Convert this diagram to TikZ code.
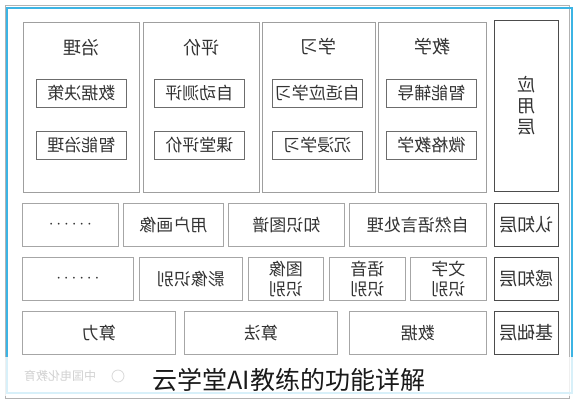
\documentclass[tikz,border=0pt]{standalone}
\usepackage{fontspec}
\setmainfont{Noto Sans CJK SC}
\usetikzlibrary{positioning, shadows}
\definecolor{framecyan}{RGB}{60,180,228}
\newcommand{\flip}[1]{\reflectbox{#1}}
\newcommand{\moredots}{\ensuremath{\cdots\cdots}}

\begin{document}
\begin{tikzpicture}[x=1pt, y=-1pt,
	softshadow/.style={drop shadow={shadow xshift=0.8pt, shadow yshift=-0.8pt,
		opacity=0.35, fill=gray}},
	appcol/.style={rectangle, anchor=north west, draw=gray!75, thick, fill=white,
		minimum height=170pt, inner sep=0pt},
	apphead/.style={font=\fontsize{18}{18}\selectfont, text=black!80, inner sep=0pt},
	appitem/.style={rectangle, anchor=north west, draw=gray!85!black, fill=white, thick,
		minimum width=90pt, minimum height=28pt, inner sep=0pt,
		font=\fontsize{17}{17}\selectfont, text=black!80, softshadow},
	cellbox/.style={rectangle, anchor=north west, draw=gray!70, thick, fill=white,
		minimum height=43pt, inner sep=0pt, align=center,
		font=\fontsize{17}{20}\selectfont, text=black!80, softshadow},
	layerbox/.style={rectangle, anchor=north west, draw=black!70, line width=1.3pt,
		fill=white, minimum width=64pt, inner sep=0pt, align=center,
		font=\fontsize{18}{21}\selectfont, text=black!80, softshadow}
	]
	\useasboundingbox (0,0) rectangle (580,400);
	
	% outer frame
	\draw[gray!60] (5,5) rectangle (569,398);
	\draw[framecyan, line width=1.2pt] (7,8) rectangle (572,393);
	
	% Application layer
	\node[appcol, minimum width=116pt] (gov) at (23,22) {};
	\node[appcol, minimum width=116pt] (eval) at (143,22) {};
	\node[appcol, minimum width=113pt] (learn) at (262,22) {};
	\node[appcol, minimum width=108pt] (teach) at (378,22) {};
	\node[layerbox, minimum height=171pt] (applabel) at (494,20) {\flip{应}\\\flip{用}\\\flip{层}};
	
	\node[apphead] (govhead) at (81,48) {\flip{治理}};
	\node[apphead] (evalhead) at (201,48) {\flip{评价}};
	\node[apphead] (learnhead) at (318,47) {\flip{学习}};
	\node[apphead] (teachhead) at (432,47) {\flip{教学}};
	
	\node[appitem] (govdata) at (36,79) {\flip{数据决策}};
	\node[appitem, below=23pt of govdata] (govsmart) {\flip{智能治理}};
	\node[appitem] (evalauto) at (154,79) {\flip{自动测评}};
	\node[appitem, below=23pt of evalauto] (evalclass) {\flip{课堂评价}};
	\node[appitem] (learnadapt) at (272,79) {\flip{自适应学习}};
	\node[appitem, below=23pt of learnadapt] (learnimm) {\flip{沉浸学习}};
	\node[appitem] (teachtutor) at (386,79) {\flip{智能辅导}};
	\node[appitem, below=23pt of teachtutor] (teachmicro) {\flip{微格教学}};
	
	% Cognition layer
	\node[cellbox, minimum width=96pt] (cogdots) at (22,203) {\moredots};
	\node[cellbox, minimum width=100pt] (cogportrait) at (123,203) {\flip{用户画像}};
	\node[cellbox, minimum width=116pt] (coggraph) at (228,203) {\flip{知识图谱}};
	\node[cellbox, minimum width=137pt] (cognlp) at (349,203) {\flip{自然语言处理}};
	\node[layerbox, minimum height=43pt] (coglabel) at (494,203) {\flip{认知层}};
	
	% Perception layer
	\node[cellbox, minimum width=111pt] (perdots) at (22,257) {\moredots};
	\node[cellbox, minimum width=103pt] (perimage) at (139,257) {\flip{影像识别}};
	\node[cellbox, minimum width=75pt] (perpic) at (248,257) {\flip{图像}\\\flip{识别}};
	\node[cellbox, minimum width=76pt] (perspeech) at (329,257) {\flip{语音}\\\flip{识别}};
	\node[cellbox, minimum width=76pt] (pertext) at (410,257) {\flip{文字}\\\flip{识别}};
	\node[layerbox, minimum height=43pt] (perlabel) at (494,257) {\flip{感知层}};
	
	% Foundation layer
	\node[cellbox, minimum width=153pt] (basepower) at (22,311) {\flip{算力}};
	\node[cellbox, minimum width=153pt] (basealgo) at (184,311) {\flip{算法}};
	\node[cellbox, minimum width=137pt] (basedata) at (349,311) {\flip{数据}};
	\node[layerbox, minimum height=43pt] (baselabel) at (494,311) {\flip{基础层}};
	
	% caption band
	\fill[white, opacity=0.8] (0,357) rectangle (580,396);
	\node[font=\fontsize{12}{12}\selectfont, text=gray!35] (mark) at (60,376) {\flip{中国电化教育}};
	\node[circle, draw=gray!30, thick, minimum size=12pt, inner sep=0pt] (marklogo) at (118,376) {};
	\node[font=\fontsize{25}{25}\selectfont, text=black!90] (caption) at (289,380) {云学堂AI教练的功能详解};
	
\end{tikzpicture}
\end{document}
